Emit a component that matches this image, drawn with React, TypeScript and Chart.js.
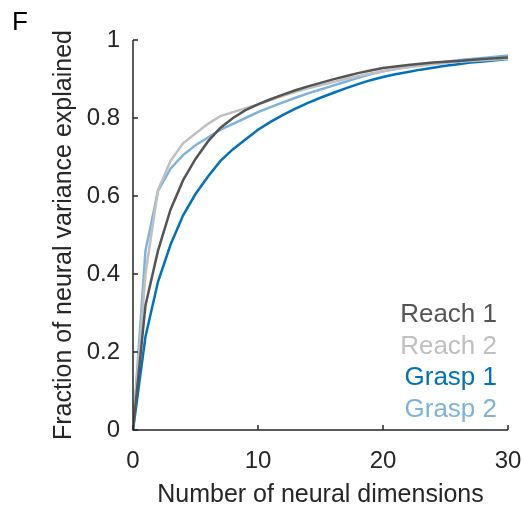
import React, { useEffect, useRef } from "react";
import { Chart, registerables } from "chart.js";
Chart.register(...registerables);

const dims = Array.from({ length: 31 }, (_, i) => i);
const reach1 = [0, 0.32, 0.46, 0.565, 0.64, 0.695, 0.74, 0.775, 0.8, 0.82, 0.835, 0.848, 0.86, 0.871, 0.881, 0.89, 0.899, 0.907, 0.915, 0.922, 0.928, 0.932, 0.936, 0.939, 0.942, 0.944, 0.946, 0.949, 0.951, 0.953, 0.955];
const reach2 = [0, 0.4, 0.615, 0.69, 0.735, 0.76, 0.785, 0.805, 0.815, 0.825, 0.835, 0.846, 0.857, 0.867, 0.876, 0.884, 0.892, 0.9, 0.907, 0.914, 0.92, 0.925, 0.93, 0.934, 0.938, 0.941, 0.944, 0.946, 0.948, 0.95, 0.952];
const grasp1 = [0, 0.24, 0.38, 0.475, 0.55, 0.605, 0.65, 0.69, 0.72, 0.745, 0.77, 0.79, 0.808, 0.824, 0.839, 0.852, 0.864, 0.876, 0.887, 0.897, 0.905, 0.912, 0.918, 0.924, 0.929, 0.934, 0.938, 0.942, 0.945, 0.948, 0.951];
const grasp2 = [0, 0.46, 0.613, 0.67, 0.705, 0.73, 0.75, 0.77, 0.785, 0.8, 0.815, 0.828, 0.84, 0.852, 0.863, 0.873, 0.883, 0.893, 0.903, 0.912, 0.92, 0.926, 0.931, 0.936, 0.94, 0.944, 0.948, 0.951, 0.954, 0.957, 0.96];
const seriesNames = ["Reach 1", "Reach 2", "Grasp 1", "Grasp 2"];
const seriesColors = ["rgb(85,85,85)", "rgb(192,192,192)", "rgb(0,114,189)", "rgb(126,178,222)"];
const xTicks = [0, 10, 20, 30];
const yTicks = [0, 0.2, 0.4, 0.6, 0.8, 1];

const FONT = "'Liberation Sans', Arial, sans-serif";

const decorPlugin = {
  id: "decor",
  afterDraw(chart: any) {
    const { ctx, chartArea, scales } = chart;
    const x = scales.x, y = scales.y;
    ctx.save();
    ctx.strokeStyle = "#262626";
    ctx.lineWidth = 1.5;
    ctx.beginPath();
    ctx.moveTo(chartArea.left, chartArea.top);
    ctx.lineTo(chartArea.left, chartArea.bottom);
    ctx.lineTo(chartArea.right, chartArea.bottom);
    ctx.stroke();
    ctx.beginPath();
    for (const v of yTicks) {
      const py = y.getPixelForValue(v);
      ctx.moveTo(chartArea.left, py);
      ctx.lineTo(chartArea.left + 5, py);
    }
    for (const v of xTicks) {
      const px = x.getPixelForValue(v);
      ctx.moveTo(px, chartArea.bottom);
      ctx.lineTo(px, chartArea.bottom - 5);
    }
    ctx.stroke();
    // legend text
    ctx.font = `26px ${FONT}`;
    ctx.textAlign = "right";
    ctx.textBaseline = "alphabetic";
    const lx = chartArea.right - 11;
    seriesNames.forEach((n, i) => {
      ctx.fillStyle = seriesColors[i];
      ctx.fillText(n, lx, 322 + i * 31.7);
    });
    // panel letter
    ctx.fillStyle = "#000";
    ctx.font = `26px ${FONT}`;
    ctx.textAlign = "left";
    ctx.fillText("F", 12, 30);
    ctx.restore();
  },
};

export default function App() {
  const ref = useRef<HTMLCanvasElement | null>(null);
  useEffect(() => {
    if (!ref.current) return;
    const data = [reach1, reach2, grasp1, grasp2];
    const chart = new Chart(ref.current, {
      type: "line",
      data: {
        labels: dims,
        datasets: seriesNames.map((n, i) => ({
          label: n,
          data: dims.map((d, j) => ({ x: d, y: data[i][j] })),
          borderColor: seriesColors[i],
          borderWidth: 2.5,
          pointRadius: 0,
          tension: 0,
          fill: false,
        })),
      },
      options: {
        responsive: false,
        animation: false,
        layout: { padding: { left: 0, right: 14, top: 40, bottom: 0 } },
        plugins: { legend: { display: false }, tooltip: { enabled: false } },
        scales: {
          x: {
            type: "linear",
            min: 0,
            max: 30,
            afterBuildTicks: (s: any) => { s.ticks = xTicks.map((v) => ({ value: v })); },
            afterFit: (s: any) => { s.height = 78; s.paddingLeft = 0; s.paddingRight = 0; },
            grid: { display: false, drawTicks: false },
            border: { display: false },
            ticks: { color: "#262626", font: { family: FONT, size: 24 }, padding: 17, maxRotation: 0 },
            title: { display: true, text: "Number of neural dimensions", color: "#262626", font: { family: FONT, size: 25, lineHeight: 1 }, padding: { top: 0, bottom: 0 } },
          },
          y: {
            type: "linear",
            min: 0,
            max: 1,
            afterBuildTicks: (s: any) => { s.ticks = yTicks.map((v) => ({ value: v })); },
            afterFit: (s: any) => { s.width = 133; s.paddingTop = 0; s.paddingBottom = 0; },
            grid: { display: false, drawTicks: false },
            border: { display: false },
            ticks: { color: "#262626", font: { family: FONT, size: 24 }, padding: 13, callback: (v: any) => String(v) },
            title: { display: true, text: "Fraction of neural variance explained", color: "#262626", font: { family: FONT, size: 25 }, padding: { top: 49, bottom: 0 } },
          },
        },
      },
      plugins: [decorPlugin],
    });
    return () => chart.destroy();
  }, []);
  return (
    <div style={{ position: "fixed", left: 0, top: 0, width: 522, height: 508, background: "#fff" }}>
      <canvas ref={ref} width={522} height={508} />
    </div>
  );
}
